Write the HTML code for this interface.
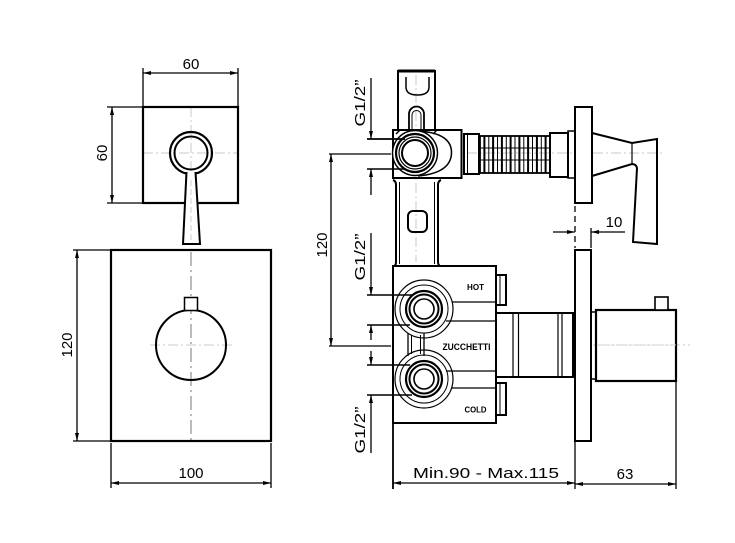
<!DOCTYPE html>
<html><head><meta charset="utf-8"><style>html,body{margin:0;padding:0;background:#fff;}svg{display:block;}</style></head>
<body>
<svg width="735" height="543" viewBox="0 0 735 543" xmlns="http://www.w3.org/2000/svg" font-family="Liberation Sans, sans-serif">
<rect width="735" height="543" fill="#fff"/>

<!-- ============ LEFT TOP VIEW ============ -->
<g stroke="#c8c8c8" stroke-width="1" stroke-dasharray="10 3 2 3" fill="none">
  <line x1="143" y1="153" x2="238" y2="153"/>
  <line x1="191" y1="107" x2="191" y2="203"/>
</g>
<rect x="143" y="107" width="95" height="96" fill="none" stroke="#000" stroke-width="2.2"/>
<circle cx="191" cy="153" r="21" fill="none" stroke="#000" stroke-width="2.2"/>
<circle cx="191" cy="153" r="16.5" fill="none" stroke="#000" stroke-width="2"/>
<polygon points="186.5,171 195.5,171 199.5,244 183,244" fill="#fff" stroke="none"/>
<polyline points="186.5,172 183,244 200,244 195.5,172" fill="none" stroke="#000" stroke-width="2"/>
<line x1="191" y1="180" x2="191" y2="240" stroke="#ccc" stroke-width="1" stroke-dasharray="6 3"/>

<g stroke="#000" stroke-width="1.3" fill="none">
  <line x1="143" y1="73" x2="238" y2="73"/>
  <line x1="143" y1="68" x2="143" y2="107"/>
  <line x1="238" y1="68" x2="238" y2="107"/>
  <line x1="112" y1="107" x2="112" y2="203"/>
  <line x1="107" y1="107" x2="143" y2="107"/>
  <line x1="107" y1="203" x2="143" y2="203"/>
</g>
<g fill="#000">
  <polygon points="143,73 151,71 151,75"/>
  <polygon points="238,73 230,71 230,75"/>
  <polygon points="112,107 110,115 114,115"/>
  <polygon points="112,203 110,195 114,195"/>
</g>
<text x="191" y="69" font-size="15" text-anchor="middle">60</text>
<text transform="translate(107,153) rotate(-90)" font-size="15" text-anchor="middle">60</text>

<!-- ============ LEFT BOTTOM VIEW ============ -->
<line x1="191" y1="252" x2="191" y2="440" stroke="#777" stroke-width="1" stroke-dasharray="14 4 2 4"/>
<line x1="150" y1="345" x2="232" y2="345" stroke="#ccc" stroke-width="1" stroke-dasharray="10 3 2 3"/>
<rect x="111" y="250" width="160" height="191" fill="none" stroke="#000" stroke-width="2.2"/>
<circle cx="191" cy="345" r="35" fill="none" stroke="#000" stroke-width="2"/>
<rect x="184.5" y="297.5" width="13" height="13" fill="#fff" stroke="#000" stroke-width="1.5"/>

<g stroke="#000" stroke-width="1.3" fill="none">
  <line x1="77" y1="250" x2="77" y2="441"/>
  <line x1="73" y1="250" x2="111" y2="250"/>
  <line x1="73" y1="441" x2="111" y2="441"/>
  <line x1="111" y1="483" x2="271" y2="483"/>
  <line x1="111" y1="443" x2="111" y2="488"/>
  <line x1="271" y1="443" x2="271" y2="488"/>
</g>
<g fill="#000">
  <polygon points="77,250 75,258 79,258"/>
  <polygon points="77,441 75,433 79,433"/>
  <polygon points="111,483 119,481 119,485"/>
  <polygon points="271,483 263,481 263,485"/>
</g>
<text transform="translate(72,345) rotate(-90)" font-size="15" text-anchor="middle">120</text>
<text x="191" y="478" font-size="15" text-anchor="middle">100</text>

<!-- ============ MIDDLE: ROUGH-IN BODY ============ -->
<!-- centerlines -->
<g stroke="#c8c8c8" stroke-width="1" stroke-dasharray="10 3 2 3" fill="none">
  <line x1="395" y1="153" x2="665" y2="153"/>
  <line x1="400" y1="345" x2="690" y2="345"/>
  <line x1="416" y1="75" x2="416" y2="262"/>
  <line x1="440" y1="309" x2="494" y2="309"/>
  <line x1="440" y1="379" x2="494" y2="379"/>
</g>

<!-- top tube -->
<g stroke="#000" fill="none">
  <line x1="398" y1="71" x2="435" y2="71" stroke-width="3"/>
  <line x1="398" y1="70" x2="398" y2="131" stroke-width="2"/>
  <line x1="435" y1="70" x2="435" y2="131" stroke-width="2"/>
  <path d="M406,77 L406,87 Q406,95 417.5,95 Q429,95 429,87 L429,77" stroke-width="1.5"/>
  <path d="M409,131 L409,114 A7.5,7.5 0 0 1 424,114 L424,131" stroke-width="1.8"/>
  <path d="M412,131 L412,115 A4.5,4.5 0 0 1 421,115 L421,131" stroke-width="1"/>
</g>

<!-- junction body -->
<rect x="393" y="130" width="68.5" height="48" fill="#fff" stroke="#000" stroke-width="2"/>
<path d="M418,131 Q452,133 451.5,153 Q451,173 418,176" fill="none" stroke="#000" stroke-width="1.5"/>
<path d="M396,134 L400,130 M437,130 L433,134" stroke="#000" stroke-width="1.5"/>
<circle cx="415" cy="153" r="22.5" fill="#fff" stroke="#000" stroke-width="1.4"/>
<circle cx="415" cy="153" r="19" fill="none" stroke="#000" stroke-width="2.2"/>
<circle cx="415" cy="153" r="16" fill="none" stroke="#000" stroke-width="1.2"/>
<circle cx="415" cy="153" r="13" fill="none" stroke="#000" stroke-width="2"/>

<!-- hose -->
<g stroke="#000" fill="none">
  <rect x="464" y="134" width="15" height="40" stroke-width="2"/>
  <line x1="467.5" y1="134" x2="467.5" y2="174" stroke-width="1"/>
  <rect x="480" y="136" width="70" height="37" stroke-width="1.8"/>
  <g stroke-width="2">
    <line x1="484.4" y1="136" x2="484.4" y2="173"/>
    <line x1="493.1" y1="136" x2="493.1" y2="173"/>
    <line x1="501.9" y1="136" x2="501.9" y2="173"/>
    <line x1="510.6" y1="136" x2="510.6" y2="173"/>
    <line x1="519.4" y1="136" x2="519.4" y2="173"/>
    <line x1="528.1" y1="136" x2="528.1" y2="173"/>
    <line x1="536.9" y1="136" x2="536.9" y2="173"/>
    <line x1="545.6" y1="136" x2="545.6" y2="173"/>
  </g>
  <g stroke-width="1">
    <line x1="488.8" y1="136" x2="488.8" y2="173"/>
    <line x1="497.5" y1="136" x2="497.5" y2="173"/>
    <line x1="506.3" y1="136" x2="506.3" y2="173"/>
    <line x1="515" y1="136" x2="515" y2="173"/>
    <line x1="523.8" y1="136" x2="523.8" y2="173"/>
    <line x1="532.5" y1="136" x2="532.5" y2="173"/>
    <line x1="541.3" y1="136" x2="541.3" y2="173"/>
    <line x1="480" y1="148" x2="550" y2="148"/>
    <line x1="480" y1="160" x2="550" y2="160"/>
  </g>
  <rect x="550" y="133" width="18" height="44" stroke-width="2"/>
  <rect x="568" y="131" width="7" height="47" stroke-width="1.5"/>
</g>

<!-- lower tube -->
<g stroke="#000" fill="none">
  <path d="M393,180 Q396,181 396,185 L396,262 Q396,266 393,267" stroke-width="2"/>
  <path d="M441,180 Q438,181 438,185 L438,262 Q438,266 442,267" stroke-width="2"/>
  <line x1="399.5" y1="182" x2="399.5" y2="264" stroke-width="1"/>
  <line x1="434.5" y1="182" x2="434.5" y2="264" stroke-width="1"/>
  <rect x="408" y="211" width="19" height="21" rx="5" stroke-width="2"/>
</g>

<!-- mixer body -->
<rect x="393" y="266" width="103" height="157" fill="#fff" stroke="#000" stroke-width="2"/>
<line x1="393" y1="423" x2="393" y2="489" stroke="#000" stroke-width="1.8"/>
<g stroke="#000" fill="none">
  <line x1="452" y1="302" x2="496" y2="302" stroke-width="1.2"/>
  <line x1="446" y1="321" x2="496" y2="321" stroke-width="1.2"/>
  <line x1="446" y1="371" x2="496" y2="371" stroke-width="1.2"/>
  <line x1="452" y1="388" x2="496" y2="388" stroke-width="1.2"/>
  <!-- neck -->
  <line x1="408" y1="333" x2="408" y2="356" stroke-width="1.3"/>
  <line x1="411.5" y1="335" x2="411.5" y2="354" stroke-width="1"/>
  <line x1="420.5" y1="335" x2="420.5" y2="354" stroke-width="1"/>
  <line x1="424" y1="333" x2="424" y2="356" stroke-width="1.3"/>
</g>
<g fill="none" stroke="#000">
  <circle cx="424" cy="309" r="29" stroke-width="1.2"/>
  <circle cx="424" cy="309" r="24" stroke-width="1"/>
  <circle cx="424" cy="309" r="18" stroke-width="2.2"/>
  <circle cx="424" cy="309" r="14.5" stroke-width="2"/>
  <circle cx="424" cy="309" r="10" stroke-width="1.6"/>
  <circle cx="424" cy="379" r="29" stroke-width="1.2"/>
  <circle cx="424" cy="379" r="24" stroke-width="1"/>
  <circle cx="424" cy="379" r="18" stroke-width="2.2"/>
  <circle cx="424" cy="379" r="14.5" stroke-width="2"/>
  <circle cx="424" cy="379" r="10" stroke-width="1.6"/>
</g>
<text x="475.5" y="290" font-size="8" font-weight="bold" text-anchor="middle" textLength="17" lengthAdjust="spacingAndGlyphs">HOT</text>
<text x="466.5" y="350" font-size="9.5" font-weight="bold" text-anchor="middle" textLength="48" lengthAdjust="spacingAndGlyphs">ZUCCHETTI</text>
<text x="475.5" y="412.5" font-size="8" font-weight="bold" text-anchor="middle" textLength="22" lengthAdjust="spacingAndGlyphs">COLD</text>

<!-- nubs -->
<g stroke="#000" fill="none">
  <rect x="496" y="275" width="10" height="30" stroke-width="2"/>
  <line x1="500" y1="275" x2="500" y2="305" stroke-width="1"/>
  <rect x="496" y="383" width="10" height="32" stroke-width="2"/>
  <line x1="500" y1="383" x2="500" y2="415" stroke-width="1"/>
</g>

<!-- cartridge -->
<g stroke="#000" fill="none">
  <rect x="496" y="313" width="79" height="64" fill="#fff" stroke-width="2"/>
  <line x1="513" y1="313" x2="513" y2="377" stroke-width="1.2"/>
  <line x1="518.5" y1="313" x2="518.5" y2="377" stroke-width="1.2"/>
  <line x1="558" y1="313" x2="558" y2="377" stroke-width="1.2"/>
  <line x1="562" y1="313" x2="562" y2="377" stroke-width="1.2"/>
  <line x1="573" y1="313" x2="573" y2="377" stroke-width="2"/>
</g>

<!-- ============ RIGHT: PLATES & HANDLES ============ -->
<rect x="575" y="107" width="17" height="96" fill="#fff" stroke="#000" stroke-width="2"/>
<path d="M592,133 L632,143 L657,139 L657,244 L633,242 L637,168 Q636,164 632,164 L592,176" fill="none" stroke="#000" stroke-width="2"/>
<line x1="632" y1="143" x2="632" y2="164" stroke="#000" stroke-width="1.2"/>

<rect x="575" y="250" width="16" height="191" fill="#fff" stroke="#000" stroke-width="2"/>
<rect x="591" y="312" width="5" height="67" fill="none" stroke="#000" stroke-width="1.5"/>
<rect x="596" y="310" width="80" height="71" fill="none" stroke="#000" stroke-width="2.2"/>
<rect x="655" y="297" width="13" height="13" fill="#fff" stroke="#000" stroke-width="1.6"/>
<line x1="600" y1="345" x2="676" y2="345" stroke="#d0d0d0" stroke-width="1" stroke-dasharray="10 3 2 3"/>

<!-- dim 10 -->
<g stroke="#000" stroke-width="1.3" fill="none">
  <line x1="575" y1="206" x2="575" y2="248" stroke-dasharray="6 4"/>
  <line x1="591" y1="228" x2="591" y2="248"/>
  <line x1="553" y1="232" x2="575" y2="232"/>
  <line x1="591" y1="232" x2="625" y2="232"/>
</g>
<g fill="#000">
  <polygon points="575,232 567,230 567,234"/>
  <polygon points="591,232 599,230 599,234"/>
</g>
<text x="614" y="227" font-size="15" text-anchor="middle">10</text>

<!-- bottom dims -->
<g stroke="#000" stroke-width="1.3" fill="none">
  <line x1="393" y1="483" x2="575" y2="483"/>
  <line x1="575" y1="441" x2="575" y2="489"/>
  <line x1="575" y1="484" x2="676" y2="484"/>
  <line x1="676" y1="381" x2="676" y2="489"/>
</g>
<g fill="#000">
  <polygon points="393,483 401,481 401,485"/>
  <polygon points="575,483 567,481 567,485"/>
  <polygon points="575,484 583,482 583,486"/>
  <polygon points="676,484 668,482 668,486"/>
</g>
<text x="486" y="478" font-size="15" text-anchor="middle" textLength="146" lengthAdjust="spacingAndGlyphs">Min.90 - Max.115</text>
<text x="625" y="479" font-size="15" text-anchor="middle">63</text>

<!-- middle left dims -->
<g stroke="#000" stroke-width="1.3" fill="none">
  <line x1="331" y1="154" x2="331" y2="346"/>
  <line x1="329" y1="154" x2="391" y2="154"/>
  <line x1="329" y1="346" x2="391" y2="346"/>

  <line x1="371" y1="78" x2="371" y2="139"/>
  <line x1="367" y1="139" x2="405" y2="139" stroke-width="1.8"/>
  <line x1="367" y1="169" x2="405" y2="169" stroke-width="1.5"/>
  <line x1="371" y1="169" x2="371" y2="195"/>

  <line x1="371" y1="233" x2="371" y2="295"/>
  <line x1="367" y1="295" x2="412" y2="295" stroke-width="1.5"/>
  <line x1="367" y1="325" x2="410" y2="325" stroke-width="1.5"/>
  <line x1="371" y1="325" x2="371" y2="340"/>
  <line x1="371" y1="351" x2="371" y2="365"/>
  <line x1="367" y1="365" x2="410" y2="365" stroke-width="1.5"/>
  <line x1="367" y1="395" x2="412" y2="395" stroke-width="1.5"/>
  <line x1="371" y1="395" x2="371" y2="453"/>
</g>
<g fill="#000">
  <polygon points="331,154 329,162 333,162"/>
  <polygon points="331,346 329,338 333,338"/>
  <polygon points="371,139 369,131 373,131"/>
  <polygon points="371,169 369,177 373,177"/>
  <polygon points="371,295 369,287 373,287"/>
  <polygon points="371,325 369,333 373,333"/>
  <polygon points="371,365 369,357 373,357"/>
  <polygon points="371,395 369,403 373,403"/>
</g>
<text transform="translate(327,245) rotate(-90)" font-size="15" text-anchor="middle">120</text>
<text transform="translate(365,103) rotate(-90)" font-size="15" text-anchor="middle" textLength="47" lengthAdjust="spacingAndGlyphs">G1/2”</text>
<text transform="translate(365,257) rotate(-90)" font-size="15" text-anchor="middle" textLength="47" lengthAdjust="spacingAndGlyphs">G1/2”</text>
<text transform="translate(365,430) rotate(-90)" font-size="15" text-anchor="middle" textLength="47" lengthAdjust="spacingAndGlyphs">G1/2”</text>
</svg>
</body></html>
